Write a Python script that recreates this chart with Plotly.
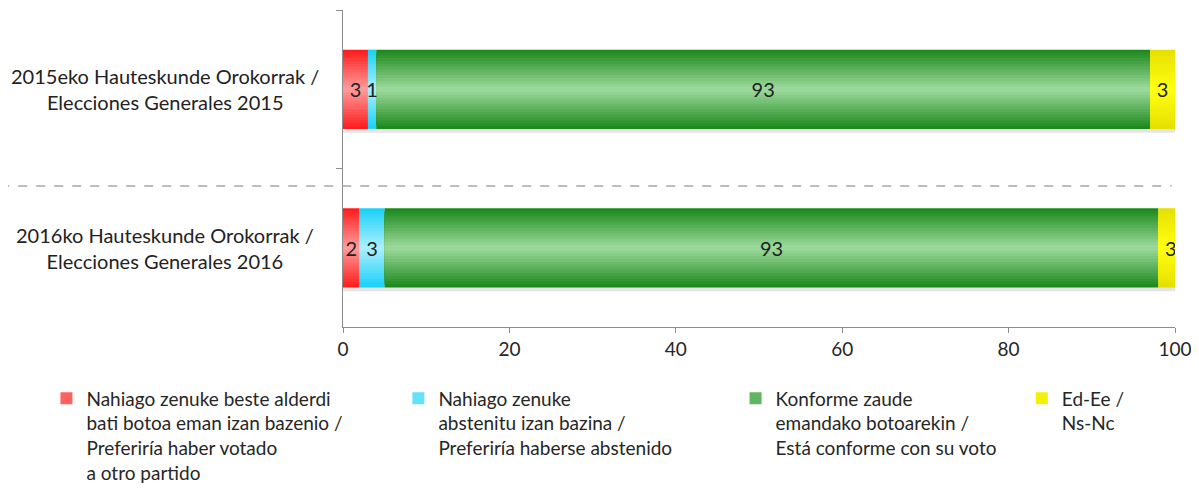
import plotly.graph_objects as go
import numpy as np

categories = ['2015eko Hauteskunde Orokorrak /<br>Elecciones Generales 2015',
              '2016ko Hauteskunde Orokorrak /<br>Elecciones Generales 2016']
series_names = ['Nahiago zenuke beste alderdi<br>bati botoa eman izan bazenio /<br>Preferiría haber votado<br>a otro partido',
                'Nahiago zenuke<br>abstenitu izan bazina /<br>Preferiría haberse abstenido',
                'Konforme zaude<br>emandako botoarekin /<br>Está conforme con su voto',
                'Ed-Ee /<br>Ns-Nc']
beste_alderdi = [3, 2]
abstenitu = [1, 3]
konforme = [93, 93]
ed_ee = [3, 3]
x_ticks = [0, 20, 40, 60, 80, 100]

edge_colors = ['#FF1E1E', '#1CD2F8', '#1E8A1E', '#E6E000']
center_colors = ['#FF9898', '#A8EEFC', '#9AD89A', '#FFFF10']
legend_x = [0.0325, 0.330, 0.615, 0.857]

FONT = 'Lato'
N_LAYERS = 14
BAR_W = 0.5


def mix(c1, c2, t):
    a = [int(c1[i:i + 2], 16) for i in (1, 3, 5)]
    b = [int(c2[i:i + 2], 16) for i in (1, 3, 5)]
    return 'rgb(%d,%d,%d)' % tuple(round(a[j] + (b[j] - a[j]) * t) for j in range(3))


values = np.array([beste_alderdi, abstenitu, konforme, ed_ee], dtype=float)
bases = np.vstack([np.zeros(len(categories)), np.cumsum(values, axis=0)[:-1]])

fig = go.Figure()

# soft shadow under the bars
fig.add_trace(go.Bar(
    y=categories, x=values.sum(axis=0), base=0, orientation='h',
    width=BAR_W, offset=-BAR_W / 2 + 0.025,
    marker=dict(color='rgba(0,0,0,0.10)', line=dict(width=0)),
    showlegend=False, hoverinfo='skip'
))

for s in range(len(series_names)):
    for k in range(N_LAYERS):
        t = k / (N_LAYERS - 1)
        w = BAR_W * (1 - k / N_LAYERS)
        leg = 'legend' if s == 0 else 'legend%d' % (s + 1)
        fig.add_trace(go.Bar(
            y=categories, x=values[s], base=bases[s], orientation='h',
            width=w, offset=-w / 2,
            marker=dict(color=mix(edge_colors[s], center_colors[s], t), line=dict(width=0)),
            name=series_names[s], legendgroup=series_names[s], legend=leg,
            showlegend=(k == N_LAYERS // 2), hoverinfo='skip'
        ))

# value labels
for s in range(len(series_names)):
    fig.add_trace(go.Bar(
        y=categories, x=values[s], base=bases[s], orientation='h',
        width=BAR_W, offset=-BAR_W / 2,
        marker=dict(color='rgba(0,0,0,0)', line=dict(width=0)),
        text=[str(int(v)) for v in values[s]], textposition='inside',
        insidetextanchor='middle', textangle=0,
        textfont=dict(size=20, family=FONT, color='#222222'),
        showlegend=False, hovertemplate='%{x}<extra></extra>'
    ))

for c in categories:
    fig.add_annotation(
        x=-0.214, xref='paper', y=c, yref='y', text=c, showarrow=False,
        xanchor='center', yanchor='middle', align='center',
        font=dict(size=20, family=FONT, color='#222222')
    )

fig.add_shape(type='line', xref='paper', yref='paper',
              x0=-0.412, x1=0.996, y0=0.445, y1=0.445,
              line=dict(color='#A6A6A6', width=1.5, dash='dash'))

legends = {}
for s in range(len(series_names)):
    key = 'legend' if s == 0 else 'legend%d' % (s + 1)
    legends[key] = dict(
        x=legend_x[s], y=0.226, xref='container', yref='container',
        xanchor='left', yanchor='top', valign='top',
        orientation='v', bgcolor='rgba(0,0,0,0)', itemclick=False,
        font=dict(size=19, family=FONT, color='#262626')
    )

# page body has an 8px margin, so the figure is 16px smaller than the window
fig.update_layout(
    barmode='overlay',
    width=1183, height=480,
    paper_bgcolor='white', plot_bgcolor='white',
    margin=dict(l=335, r=16, t=2, b=161, autoexpand=False),
    uniformtext=dict(minsize=20, mode='show'),
    xaxis=dict(
        range=[0, 100], tickvals=x_ticks, showgrid=False, zeroline=False,
        showline=True, linecolor='#8C8C8C', linewidth=1,
        ticks='outside', ticklen=5, tickcolor='#8C8C8C', ticklabeloverflow='allow',
        tickfont=dict(size=19, family=FONT, color='#262626')
    ),
    yaxis=dict(
        categoryorder='array', categoryarray=categories,
        range=[1.5, -0.5], showticklabels=False, showgrid=False,
        showline=True, linecolor='#8C8C8C', linewidth=1,
        ticks='outside', ticklen=6, tickcolor='#8C8C8C', tickson='boundaries'
    ),
    **legends
)

fig.write_html('out.html')
